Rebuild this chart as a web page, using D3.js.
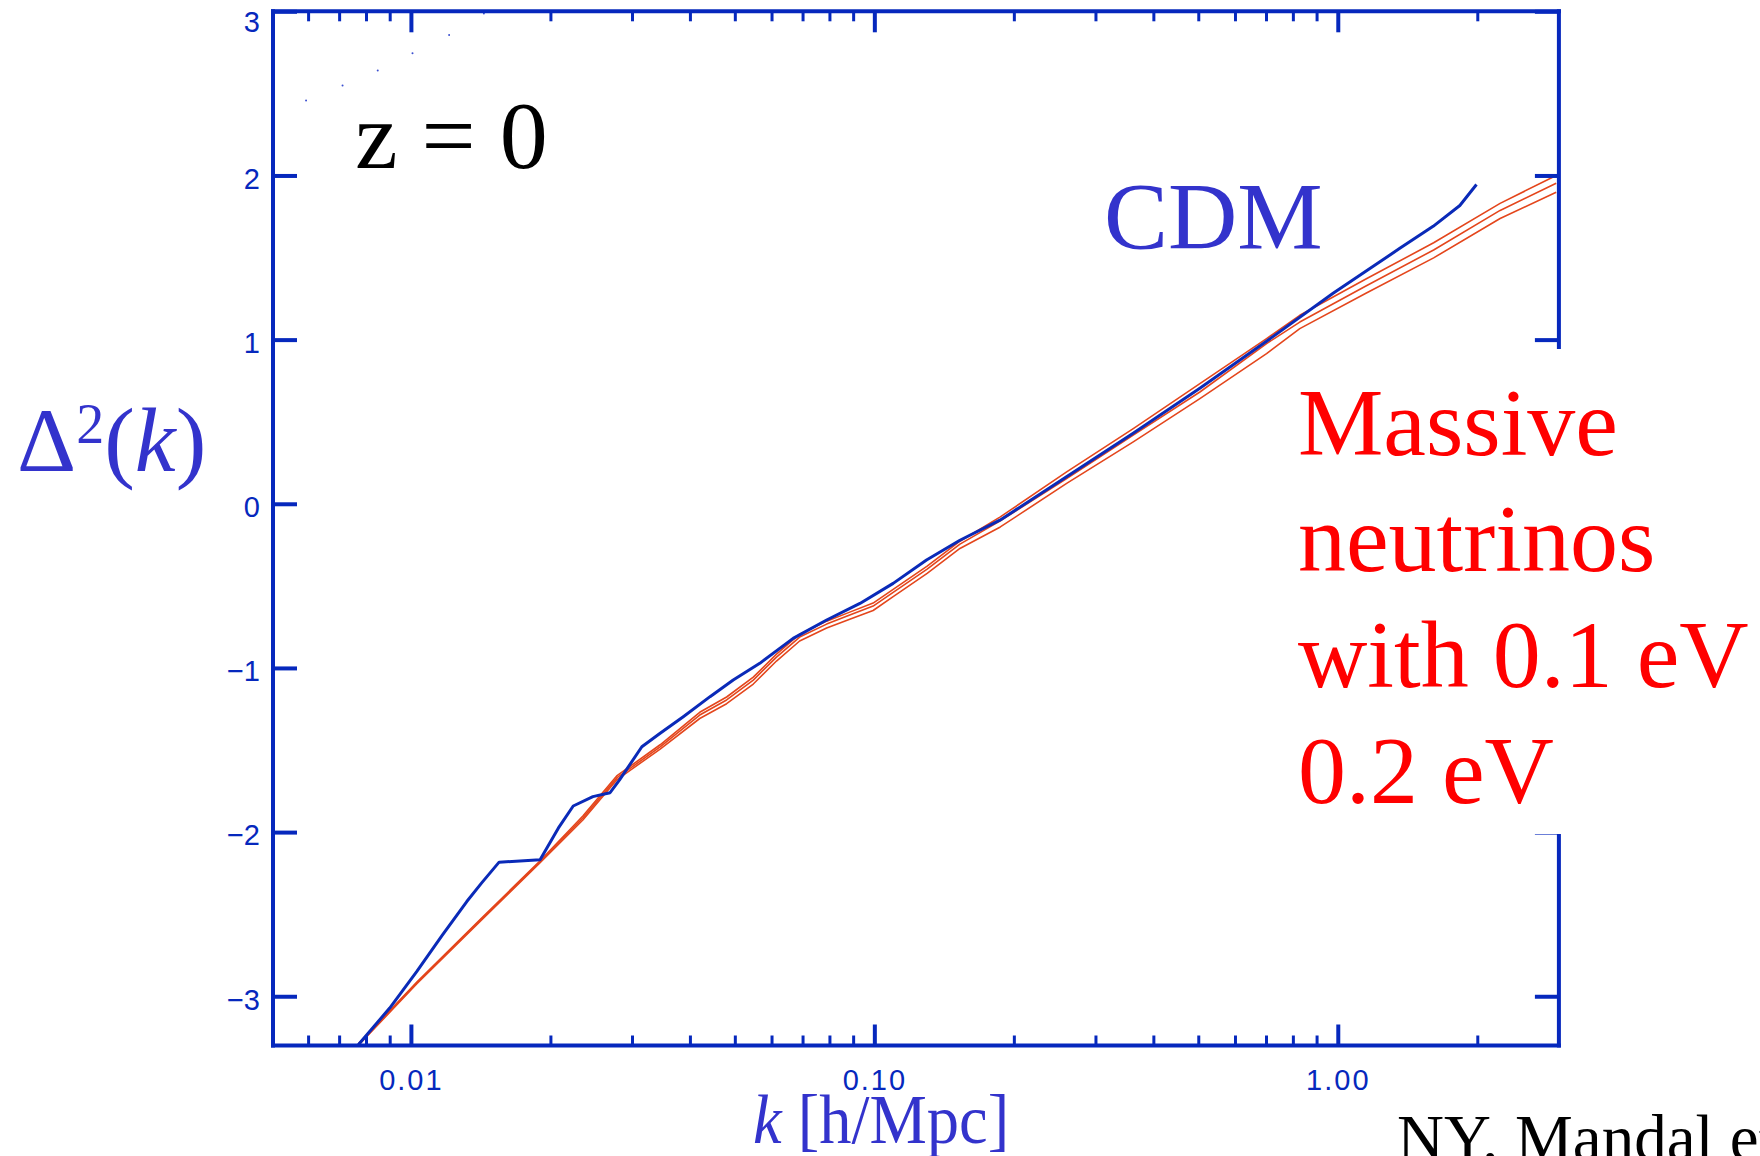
<!DOCTYPE html>
<html>
<head>
<meta charset="utf-8">
<script src="https://cdn.jsdelivr.net/npm/d3@7"></script>
<style>
  html, body { margin: 0; padding: 0; background: #ffffff; }
  svg { display: block; }
</style>
</head>
<body>
<script>
// ---------------- DATA ----------------
const kDomain = [0.00504, 3.0];
const deltaDomain = [-3.3, 3];

const kTicksMajor = [0.01, 0.1, 1];
const kTickLabels = ["0.01", "0.10", "1.00"];
const kTicksMinor = [0.006, 0.007, 0.008, 0.009,
  0.02, 0.03, 0.04, 0.05, 0.06, 0.07, 0.08, 0.09,
  0.2, 0.3, 0.4, 0.5, 0.6, 0.7, 0.8, 0.9, 2];
const deltaTicks = [-3, -2, -1, 0, 1, 2, 3];
const deltaTickLabels = ["\u22123", "\u22122", "\u22121", "0", "1", "2", "3"];

// CDM (blue)
const cdmK = [0.0077, 0.0090, 0.0103, 0.0117, 0.0132, 0.0142, 0.0155, 0.0190, 0.0208,
  0.0224, 0.0247, 0.0269, 0.0282, 0.0315, 0.0345, 0.0387, 0.0442, 0.0496, 0.0566,
  0.0668, 0.0789, 0.0931, 0.1098, 0.1296, 0.1530, 0.1866, 0.2598, 0.3618, 0.5039,
  0.7018, 0.9770, 1.361, 1.606, 1.834, 1.992];
const cdmDelta = [-3.295, -3.072, -2.849, -2.626, -2.423, -2.311, -2.183, -2.169, -1.976,
  -1.841, -1.784, -1.760, -1.682, -1.480, -1.398, -1.297, -1.175, -1.074, -0.972,
  -0.820, -0.708, -0.607, -0.485, -0.343, -0.222, -0.100, 0.164, 0.430, 0.704,
  0.990, 1.282, 1.556, 1.690, 1.817, 1.945];

// Massive neutrino models (red)
const nuK = [0.0077, 0.0103, 0.0143, 0.019, 0.0235, 0.0278, 0.0345, 0.042, 0.048, 0.0548,
  0.0615, 0.069, 0.0789, 0.0885, 0.0994, 0.11, 0.13, 0.153, 0.187, 0.26, 0.362, 0.504,
  0.702, 0.828, 1.15, 1.61, 2.24, 2.96];
const nuDeltaA = [-3.290, -2.913, -2.516, -2.175, -1.902, -1.658, -1.468, -1.270, -1.177, -1.056,
  -0.916, -0.794, -0.715, -0.660, -0.605, -0.520, -0.380, -0.228, -0.080, 0.194, 0.458, 0.732,
  1.006, 1.148, 1.369, 1.590, 1.830, 2.000];
const nuDeltaB = [-3.295, -2.918, -2.522, -2.181, -1.914, -1.670, -1.481, -1.287, -1.195, -1.074,
  -0.934, -0.812, -0.733, -0.678, -0.623, -0.538, -0.398, -0.246, -0.104, 0.154, 0.418, 0.681,
  0.976, 1.107, 1.327, 1.546, 1.787, 1.953];
const nuDeltaC = [-3.300, -2.923, -2.528, -2.187, -1.926, -1.682, -1.494, -1.308, -1.218, -1.098,
  -0.958, -0.836, -0.757, -0.704, -0.650, -0.564, -0.424, -0.272, -0.141, 0.124, 0.377, 0.641,
  0.915, 1.067, 1.282, 1.498, 1.738, 1.898];

// stray dots near the top-left corner
const dotK = [0.00594, 0.00712, 0.00848, 0.01008, 0.01209, 0.01437];
const dotDelta = [2.456, 2.548, 2.639, 2.744, 2.856, 2.986];

const nuLabelLines = ["Massive", "neutrinos", "with 0.1 eV", "0.2 eV"];

// ---------------- DRAW ----------------
const W = 1760, H = 1156;
const axisBlue = "#0628bd";
const curveBlue = "#0a2ab8";
const textBlue = "#3333cc";
const redLine = "#e4461c";
const serif = "'Liberation Serif', 'Times New Roman', serif";
const sans = "'Liberation Sans', Arial, sans-serif";

const svg = d3.select("body").append("svg")
  .attr("width", W).attr("height", H)
  .style("background", "#ffffff");

const x = d3.scaleLog().domain(kDomain).range([273, 1558.9]);
const y = d3.scaleLinear().domain(deltaDomain).range([1045.5, 11.3]);

const [x0, x1] = x.range();
const [y0, y1] = y.range(); // y0 bottom, y1 top

svg.append("defs").append("clipPath").attr("id", "plotClip")
  .append("rect")
  .attr("x", x0).attr("y", y1)
  .attr("width", x1 - x0).attr("height", y0 - y1);

const plot = svg.append("g").attr("clip-path", "url(#plotClip)");

const line = d3.line().x(d => x(d[0])).y(d => y(d[1]));

[nuDeltaA, nuDeltaB, nuDeltaC].forEach(arr => {
  plot.append("path")
    .attr("d", line(nuK.map((k, i) => [k, arr[i]])))
    .attr("fill", "none")
    .attr("stroke", redLine)
    .attr("stroke-width", 1.6)
    .attr("stroke-linejoin", "round");
});

plot.append("path")
  .attr("d", line(cdmK.map((k, i) => [k, cdmDelta[i]])))
  .attr("fill", "none")
  .attr("stroke", curveBlue)
  .attr("stroke-width", 3)
  .attr("stroke-linejoin", "round");

plot.selectAll("circle.dot").data(dotK.map((k, i) => [k, dotDelta[i]]))
  .enter().append("circle")
  .attr("class", "dot")
  .attr("cx", d => x(d[0])).attr("cy", d => y(d[1]))
  .attr("r", 1)
  .attr("fill", "#3a4fd0");

// ---- axes ----
function styleAxis(g, width) {
  g.select(".domain").remove();
  g.selectAll(".tick line").attr("stroke", axisBlue).attr("stroke-width", width);
}

// bottom major with labels
const gBotMaj = svg.append("g").attr("transform", `translate(0,${y0})`)
  .call(d3.axisBottom(x).tickValues(kTicksMajor).tickSize(-21).tickSizeOuter(0)
    .tickFormat((d, i) => kTickLabels[i]));
styleAxis(gBotMaj, 4);
gBotMaj.selectAll(".tick text")
  .attr("y", 1090 - y0).attr("dy", 0)
  .attr("fill", axisBlue)
  .style("font-family", sans).style("font-size", "29px")
  .style("letter-spacing", "2px");

// bottom minor
const gBotMin = svg.append("g").attr("transform", `translate(0,${y0})`)
  .call(d3.axisBottom(x).tickValues(kTicksMinor).tickSize(-10).tickSizeOuter(0).tickFormat(""));
styleAxis(gBotMin, 3);

// top major/minor
const gTopMaj = svg.append("g").attr("transform", `translate(0,${y1})`)
  .call(d3.axisTop(x).tickValues(kTicksMajor).tickSize(-21).tickSizeOuter(0).tickFormat(""));
styleAxis(gTopMaj, 4);
const gTopMin = svg.append("g").attr("transform", `translate(0,${y1})`)
  .call(d3.axisTop(x).tickValues(kTicksMinor).tickSize(-10).tickSizeOuter(0).tickFormat(""));
styleAxis(gTopMin, 3);

// left axis with labels
const gLeft = svg.append("g").attr("transform", `translate(${x0},0)`)
  .call(d3.axisLeft(y).tickValues(deltaTicks).tickSize(-24).tickSizeOuter(0).tickPadding(13)
    .tickFormat((d, i) => deltaTickLabels[i]));
styleAxis(gLeft, 4);
gLeft.selectAll(".tick text")
  .attr("dy", d => d === 3 ? "0.70em" : "0.44em")
  .attr("x", -13)
  .attr("fill", axisBlue)
  .style("font-family", sans).style("font-size", "29px");

// right axis
const gRight = svg.append("g").attr("transform", `translate(${x1},0)`)
  .call(d3.axisRight(y).tickValues(deltaTicks).tickSize(-24).tickSizeOuter(0).tickFormat(""));
styleAxis(gRight, 4);

// frame
const frame = svg.append("g").attr("stroke", axisBlue).attr("stroke-width", 4)
  .attr("stroke-linecap", "square");
frame.append("line").attr("x1", x0).attr("x2", x0).attr("y1", y1).attr("y2", y0);
frame.append("line").attr("x1", x1).attr("x2", x1).attr("y1", y1).attr("y2", y0);
frame.append("line").attr("x1", x0).attr("x2", x1).attr("y1", y1).attr("y2", y1);
frame.append("line").attr("x1", x0).attr("x2", x1).attr("y1", y0).attr("y2", y0);

// ---- annotations ----
// white box behind the neutrino label (hides part of right axis)
svg.append("rect").attr("x", 1290).attr("y", 349).attr("width", 470).attr("height", 485)
  .attr("fill", "#ffffff");

svg.append("text")
  .attr("x", 355).attr("y", 168)
  .attr("fill", "#000000")
  .style("font-family", serif).style("font-size", "96px")
  .text("z = 0");

svg.append("text")
  .attr("x", 1104).attr("y", 249)
  .attr("fill", textBlue)
  .style("font-family", serif).style("font-size", "96px")
  .text("CDM");

const nuText = svg.append("text")
  .attr("fill", "#ff0000")
  .style("font-family", serif).style("font-size", "96px");
nuLabelLines.forEach((s, i) => {
  nuText.append("tspan").attr("x", 1298).attr("y", 455 + i * 116).text(s);
});

// y-axis title  Δ²(k)
const yTitle = svg.append("text")
  .attr("x", 17).attr("y", 471)
  .attr("fill", textBlue)
  .style("font-family", serif).style("font-size", "92px");
yTitle.append("tspan").text("\u0394");
yTitle.append("tspan").attr("dy", -28).style("font-size", "56px").text("2");
yTitle.append("tspan").attr("dy", 28).text("(");
yTitle.append("tspan").style("font-style", "italic").text("k");
yTitle.append("tspan").text(")");

// x-axis title  k [h/Mpc]
const xTitleG = svg.append("g").attr("transform", "translate(753,1143) scale(0.935,1)");
const xTitle = xTitleG.append("text")
  .attr("x", 0).attr("y", 0)
  .attr("fill", textBlue)
  .style("font-family", serif).style("font-size", "69px");
xTitle.append("tspan").style("font-style", "italic").text("k");
xTitle.append("tspan").text(" [h/Mpc]");

// citation, clipped by the page edge
svg.append("text")
  .attr("x", 1397).attr("y", 1160)
  .attr("fill", "#000000")
  .style("font-family", serif).style("font-size", "65px")
  .text("NY, Mandal et al.");
</script>
</body>
</html>
